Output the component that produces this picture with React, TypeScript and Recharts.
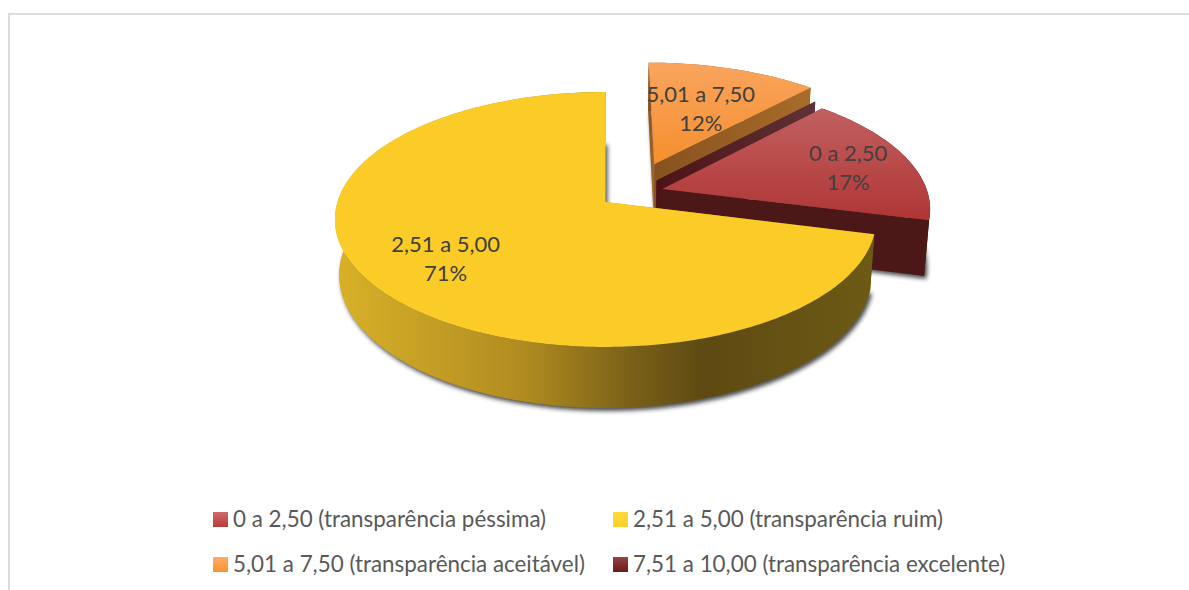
import { PieChart, Pie, Legend } from "recharts";

// painter's order, back to front, clockwise from 12 o'clock
const sliceNames = ["5,01 a 7,50", "7,51 a 10,00", "0 a 2,50", "2,51 a 5,00"];
const sliceValues = [12, 0, 17, 71];

const legendLabels = [
  "0 a 2,50 (transparência péssima)",
  "2,51 a 5,00 (transparência ruim)",
  "5,01 a 7,50 (transparência aceitável)",
  "7,51 a 10,00 (transparência excelente)",
];

const pieData = sliceNames.map((name, i) => ({ name, value: sliceValues[i] }));

// how far each slice is pulled out of the pie, in radius units (right, back)
const sliceOffsets = [
  [0.19, 0.315],
  [0.195, 0.175],
  [0.215, 0.105],
  [0, 0],
];
const labelRadius = [0.56, 0, 0.76, 0.71];
const labelNudge = [1, 0, 4, -1];

const topFills = ["url(#topOrange)", "#7a2a2a", "url(#topRed)", "#fbcb27"];
const wallFills = ["url(#wallOrange)", "url(#wallStrip)", "#4b1717", "url(#wallYellow)"];

const legendSwatches = ["url(#swRed)", "url(#swYellow)", "url(#swOrange)", "url(#swDark)"];

// fake 3D camera: perspective over the disc, z = 1 is the bottom face
const PERSP_V = 0.137;
const PERSP_Z = 0.015;
const TILT = -97.4;
const DEPTH = 58.8;

const project = (cx: number, cy: number, R: number, u: number, v: number, z: number) => {
  const w = 1 + PERSP_V * v + PERSP_Z * z;
  return [cx + (R * u) / w, (cy + TILT * v + DEPTH * z) / w];
};

const toPath = (pts: number[][]) =>
  "M" + pts.map((p) => `${p[0].toFixed(2)},${p[1].toFixed(2)}`).join("L") + "Z";

const SliceShape = (props: any) => {
  const { cx, cy, outerRadius: R, startAngle, endAngle, index } = props;
  const [du, dv] = sliceOffsets[index];
  // recharts angles -> clockwise from 12 o'clock
  const a0 = 90 - startAngle;
  const a1 = 90 - endAngle;
  const at = (deg: number, t: number, z: number) => {
    const r = (deg * Math.PI) / 180;
    return project(cx, cy, R, du + t * Math.sin(r), dv + t * Math.cos(r), z);
  };
  const arc = (z: number) => {
    const pts = [];
    const n = Math.max(1, Math.ceil(a1 - a0));
    for (let i = 0; i <= n; i++) pts.push(at(a0 + ((a1 - a0) * i) / n, 1, z));
    return pts;
  };
  const top = [at(a0, 0, 0), ...arc(0)];
  const bottom = [at(a0, 0, 1), ...arc(1)];
  const rim = [...arc(0), ...arc(1).reverse()];
  const edge = (deg: number) => [at(deg, 0, 0), at(deg, 1, 0), at(deg, 1, 1), at(deg, 0, 1)];
  return (
    <g>
      <path d={toPath(bottom)} fill="#222" opacity={0.8} filter="url(#ground)" transform="translate(2,3)" />
      <path d={toPath(edge(a0))} fill={wallFills[index]} />
      <path d={toPath(edge(a1))} fill={wallFills[index]} />
      {a1 > a0 && <path d={toPath(rim)} fill={wallFills[index]} />}
      {a1 > a0 && <path d={toPath(top)} fill={topFills[index]} />}
    </g>
  );
};

const SliceLabel = (props: any) => {
  const { cx, cy, outerRadius: R, midAngle, index, percent, name } = props;
  if (!percent) return null;
  const [du, dv] = sliceOffsets[index];
  const r = ((90 - midAngle) * Math.PI) / 180;
  const t = labelRadius[index];
  const [x, y] = project(cx, cy, R, du + t * Math.sin(r), dv + t * Math.cos(r), 0);
  return (
    <text x={x} y={y + labelNudge[index]} textAnchor="middle" fill="#404040" fontSize={22} fontFamily="Lato">
      <tspan x={x} dy={-7}>{name}</tspan>
      <tspan x={x} dy={29}>{Math.round(percent * 100)}%</tspan>
    </text>
  );
};

const LegendBlock = () => (
  <svg width={1189} height={100} style={{ display: "block" }}>
    {legendLabels.map((label, i) => {
      const x = i % 2 === 0 ? 213 : 613;
      const y = i < 2 ? 12 : 57;
      return (
        <g key={label}>
          <rect x={x} y={y} width={15} height={15} fill={legendSwatches[i]} />
          <text x={x + 20} y={y + 15} fontSize={22.4} fontFamily="Lato" fill="#595959">{label}</text>
        </g>
      );
    })}
  </svg>
);

const vGrad = (id: string, from: string, to: string) => (
  <linearGradient id={id} x1="0" y1="0" x2="0" y2="1">
    <stop offset="0" stopColor={from} />
    <stop offset="1" stopColor={to} />
  </linearGradient>
);

export default function App() {
  return (
    <div style={{ position: "absolute", left: 0, top: 0, width: 1189, height: 590, overflow: "hidden", background: "#fff" }}>
      <div style={{ position: "absolute", left: 8, top: 13, right: -4, bottom: -4, borderLeft: "2px solid #dcdcdc", borderTop: "2px solid #dcdcdc" }} />
      <PieChart width={1189} height={590} margin={{ top: 0, right: 0, bottom: 0, left: 0 }} style={{ position: "absolute", left: 0, top: 0 }}>
        <defs>
          {vGrad("topOrange", "#f9a45e", "#f68f2e")}
          {vGrad("topRed", "#c26060", "#b03535")}
          {vGrad("swRed", "#cf6a6a", "#b83c3c")}
          {vGrad("swYellow", "#ffd83a", "#fdd02a")}
          {vGrad("swOrange", "#ffac64", "#f99232")}
          {vGrad("swDark", "#944444", "#6f1a1a")}
          <linearGradient id="wallOrange" x1="0" y1="0" x2="1" y2="0">
            <stop offset="0" stopColor="#87521f" />
            <stop offset="1" stopColor="#a86c2a" />
          </linearGradient>
          <linearGradient id="wallStrip" x1="0" y1="0" x2="1" y2="0">
            <stop offset="0" stopColor="#4c1315" />
            <stop offset="1" stopColor="#5e3236" />
          </linearGradient>
          <linearGradient id="wallYellow" x1="0" y1="0" x2="1" y2="0">
            <stop offset="0" stopColor="#d9b128" />
            <stop offset="0.35" stopColor="#b08c20" />
            <stop offset="0.55" stopColor="#7a6018" />
            <stop offset="0.68" stopColor="#5e4a12" />
            <stop offset="1" stopColor="#6d5a15" />
          </linearGradient>
          <filter id="ground" x="-5%" y="-5%" width="110%" height="110%">
            <feGaussianBlur stdDeviation="2.2" />
          </filter>
        </defs>
        <Pie
          data={pieData}
          dataKey="value"
          nameKey="name"
          cx={605.5}
          cy={202}
          outerRadius={268}
          startAngle={90}
          endAngle={-270}
          stroke="none"
          shape={SliceShape}
          label={SliceLabel}
          labelLine={false}
          isAnimationActive={false}
        />
        <Legend content={LegendBlock} wrapperStyle={{ left: 0, top: 500, width: 1189 }} />
      </PieChart>
    </div>
  );
}
